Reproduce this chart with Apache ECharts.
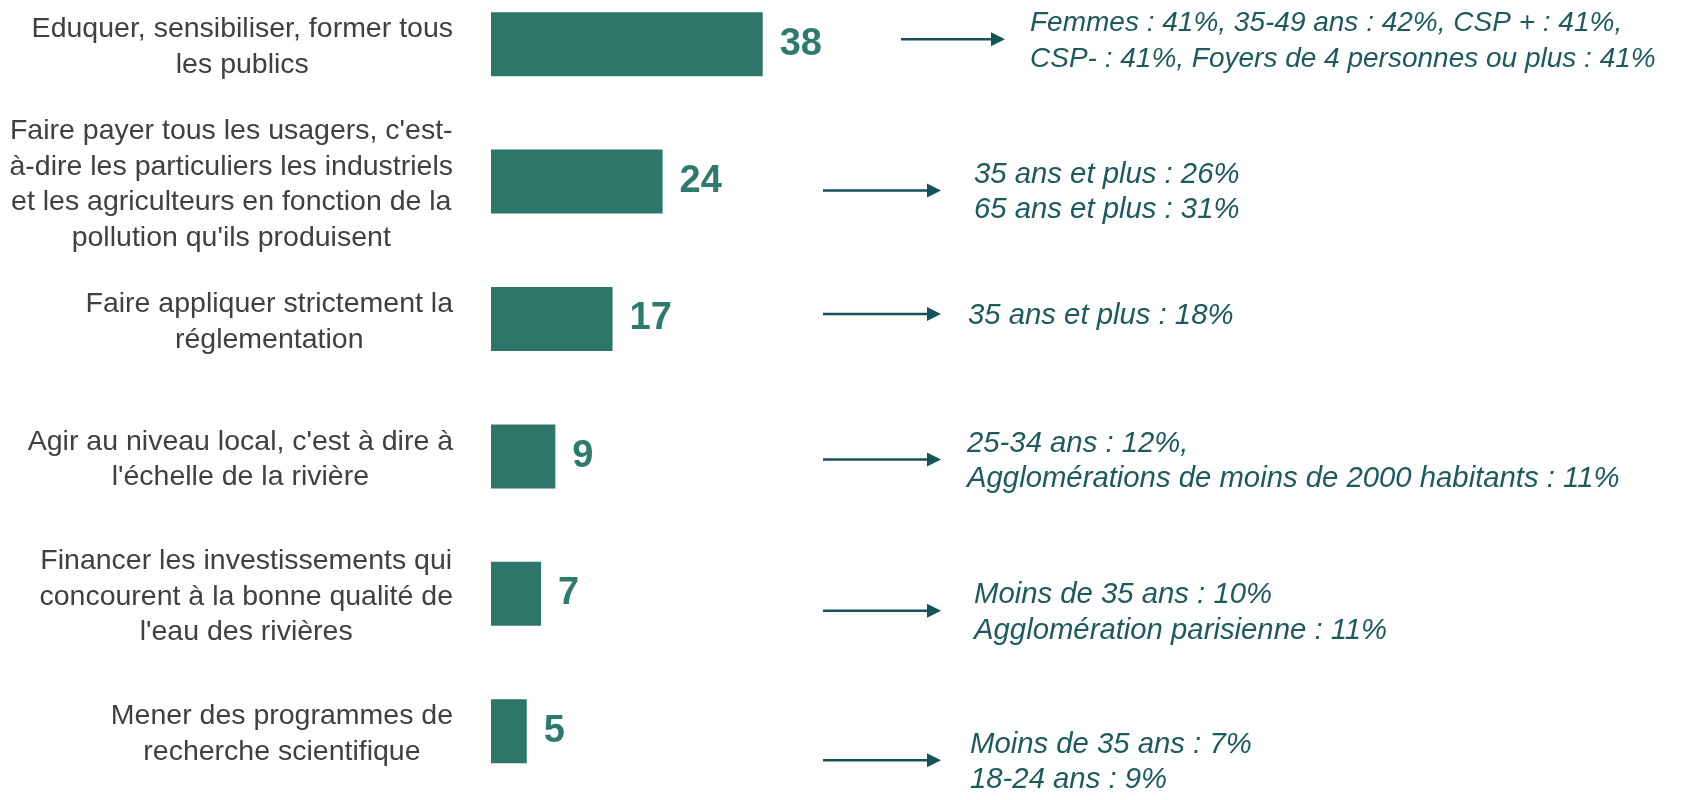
<!DOCTYPE html>
<html>
<head>
<meta charset="utf-8">
<script src="https://cdn.jsdelivr.net/npm/echarts@6/dist/echarts.min.js"></script>
<style>
  html, body { margin: 0; padding: 0; background: #fff; }
  #chart { width: 1691px; height: 800px; }
</style>
</head>
<body>
<div id="chart"></div>
<script>
// categories (line breaks as in the source)
const categories = [
  "Eduquer, sensibiliser, former tous\nles publics",
  "Faire payer tous les usagers, c'est-\nà-dire les particuliers les industriels\net les agriculteurs en fonction de la\npollution qu'ils produisent",
  "Faire appliquer strictement la\nréglementation",
  "Agir au niveau local, c'est à dire à\nl'échelle de la rivière",
  "Financer les investissements qui\nconcourent à la bonne qualité de\nl'eau des rivières",
  "Mener des programmes de\nrecherche scientifique"
];
const values = [38, 24, 17, 9, 7, 5];
const notes = [
  "Femmes : 41%, 35-49 ans : 42%, CSP + : 41%,\nCSP- : 41%, Foyers de 4 personnes ou plus : 41%",
  "35 ans et plus : 26%\n65 ans et plus : 31%",
  "35 ans et plus : 18%",
  "25-34 ans : 12%,\nAgglomérations de moins de 2000 habitants : 11%",
  "Moins de 35 ans : 10%\nAgglomération parisienne : 11%",
  "Moins de 35 ans : 7%\n18-24 ans : 9%"
];

// annotation layout (pixels): arrow start, arrow end, text x, vertical shift from bar centre, font size
const noteLayout = [
  [901, 1005, 1030, -5, 28],
  [823, 941, 974, 9, 29.3],
  [823, 941, 968, -5, 29.3],
  [823, 941, 967, 3, 29.3],
  [823, 941, 974, 17, 29.3],
  [823, 941, 970, 29, 29.3]
];

const barColor = '#2e756a';
const noteColor = '#1d5a5e';
const arrowColor = '#145459';
const font = '"Liberation Sans", Arial, sans-serif';

var myChart = echarts.init(document.getElementById('chart'));

var option = {
  animation: false,
  grid: { left: 491, top: -24.5, width: 715, height: 824.4, outerBoundsMode: 'none' },
  xAxis: { type: 'value', min: 0, max: 100, show: false },
  yAxis: {
    type: 'category',
    inverse: true,
    data: categories,
    axisLine: { show: false },
    axisTick: { show: false },
    splitLine: { show: false },
    axisLabel: {
      align: 'right',
      margin: 38,
      padding: [6, 0, 0, 0],
      formatter: function (v) {
        return v.split('\n').map(function (s) { return '{c|' + s + '}'; }).join('\n');
      },
      rich: {
        c: { align: 'center', fontSize: 28.5, lineHeight: 35.5, color: '#404040', fontFamily: font }
      }
    }
  },
  series: [
    {
      type: 'bar',
      data: values,
      barWidth: 64,
      itemStyle: { color: barColor },
      label: {
        show: true,
        position: 'right',
        distance: 17,
        color: '#2e7b6d',
        fontSize: 38,
        fontWeight: 'bold',
        fontFamily: font
      }
    },
    {
      type: 'custom',
      coordinateSystem: 'cartesian2d',
      data: notes.map(function (n, i) { return [0, i]; }),
      encode: { x: 0, y: 1 },
      silent: true,
      renderItem: function (params, api) {
        var i = api.value(1);
        var lay = noteLayout[i];
        var y = api.coord([0, i])[1] + lay[3];
        var x0 = lay[0], x1 = lay[1];
        return {
          type: 'group',
          children: [
            { type: 'line', shape: { x1: x0, y1: y, x2: x1 - 10, y2: y },
              style: { stroke: arrowColor, lineWidth: 2.5 } },
            { type: 'polygon', shape: { points: [[x1 - 14, y - 7], [x1, y], [x1 - 14, y + 7]] },
              style: { fill: arrowColor } },
            { type: 'text',
              style: {
                x: lay[2], y: y + 2, text: notes[i], fill: noteColor,
                fontSize: lay[4], fontStyle: 'italic', fontFamily: font,
                lineHeight: 35.5, align: 'left', verticalAlign: 'middle'
              } }
          ]
        };
      }
    }
  ]
};

option && myChart.setOption(option);
</script>
</body>
</html>
